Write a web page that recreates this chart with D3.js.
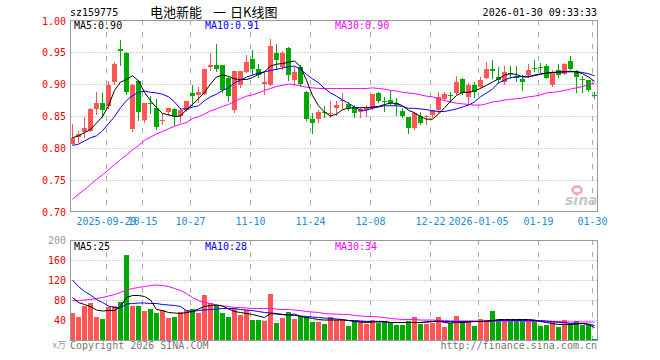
<!DOCTYPE html>
<html>
<head>
<meta charset="utf-8">
<script src="https://cdn.jsdelivr.net/npm/d3@7"></script>
<style>
  body { margin: 0; background: #fff; }
  svg { display: block; }
  text { font-family: "DejaVu Sans Mono", monospace; font-size: 10px; }
</style>
</head>
<body>
<div class="canvas"></div>
<script>
// trading days shown (2025-09-19 .. 2026-01-30)
const dates = [
  "2025-09-19","2025-09-22","2025-09-23","2025-09-24","2025-09-25","2025-09-26","2025-09-29","2025-09-30",
  "2025-10-09","2025-10-10","2025-10-13","2025-10-14","2025-10-15","2025-10-16","2025-10-17","2025-10-20",
  "2025-10-21","2025-10-22","2025-10-23","2025-10-24","2025-10-27","2025-10-28","2025-10-29","2025-10-30",
  "2025-10-31","2025-11-03","2025-11-04","2025-11-05","2025-11-06","2025-11-07","2025-11-10","2025-11-11",
  "2025-11-12","2025-11-13","2025-11-14","2025-11-17","2025-11-18","2025-11-19","2025-11-20","2025-11-21",
  "2025-11-24","2025-11-25","2025-11-26","2025-11-27","2025-11-28","2025-12-01","2025-12-02","2025-12-03",
  "2025-12-04","2025-12-05","2025-12-08","2025-12-09","2025-12-10","2025-12-11","2025-12-12","2025-12-15",
  "2025-12-16","2025-12-17","2025-12-18","2025-12-19","2025-12-22","2025-12-23","2025-12-24","2025-12-25",
  "2025-12-26","2025-12-29","2025-12-30","2025-12-31","2026-01-05","2026-01-06","2026-01-07","2026-01-08",
  "2026-01-09","2026-01-12","2026-01-13","2026-01-14","2026-01-15","2026-01-16","2026-01-19","2026-01-20",
  "2026-01-21","2026-01-22","2026-01-23","2026-01-26","2026-01-27","2026-01-28","2026-01-29","2026-01-30"
];

const open = [
  0.807,0.817,0.825,0.827,0.861,0.870,0.865,0.903,0.955,0.949,
  0.829,0.904,0.843,0.870,0.863,0.843,0.857,0.861,0.850,0.859,
  0.886,0.883,0.885,0.926,0.929,0.929,0.909,0.859,0.898,0.919,
  0.939,0.923,0.900,0.899,0.948,0.926,0.957,0.906,0.926,0.888,
  0.846,0.846,0.856,0.853,0.863,0.874,0.869,0.864,0.857,0.860,
  0.863,0.886,0.874,0.875,0.870,0.858,0.848,0.831,0.850,0.848,
  0.851,0.860,0.877,0.883,0.886,0.908,0.879,0.898,0.896,0.910,
  0.923,0.911,0.903,0.917,0.913,0.908,0.914,0.925,0.926,0.928,
  0.898,0.922,0.916,0.936,0.921,0.908,0.906,0.883
];
const close = [
  0.816,0.822,0.832,0.861,0.870,0.859,0.899,0.932,0.952,0.887,
  0.899,0.857,0.870,0.868,0.833,0.844,0.862,0.850,0.860,0.873,
  0.881,0.888,0.923,0.929,0.923,0.891,0.882,0.920,0.920,0.935,
  0.923,0.914,0.903,0.960,0.937,0.949,0.914,0.919,0.900,0.846,
  0.839,0.856,0.855,0.855,0.867,0.875,0.863,0.854,0.861,0.863,
  0.884,0.874,0.873,0.870,0.867,0.850,0.831,0.854,0.839,0.850,
  0.859,0.879,0.884,0.882,0.903,0.886,0.898,0.888,0.907,0.923,
  0.921,0.907,0.919,0.916,0.909,0.903,0.922,0.924,0.925,0.910,
  0.919,0.914,0.932,0.924,0.911,0.907,0.890,0.882
];
const high = [
  0.837,0.826,0.849,0.862,0.888,0.886,0.905,0.935,0.968,0.950,
  0.900,0.906,0.871,0.882,0.876,0.855,0.863,0.863,0.862,0.874,
  0.898,0.895,0.924,0.948,0.962,0.930,0.911,0.921,0.921,0.946,
  0.953,0.932,0.919,0.971,0.962,0.952,0.958,0.927,0.930,0.889,
  0.854,0.860,0.865,0.874,0.874,0.886,0.872,0.867,0.864,0.867,
  0.885,0.888,0.880,0.889,0.878,0.862,0.848,0.857,0.857,0.852,
  0.860,0.888,0.888,0.888,0.912,0.909,0.902,0.903,0.911,0.935,
  0.937,0.927,0.928,0.928,0.928,0.914,0.932,0.937,0.933,0.932,
  0.922,0.932,0.933,0.943,0.922,0.912,0.907,0.888
];
const low = [
  0.806,0.809,0.817,0.826,0.853,0.849,0.863,0.900,0.930,0.885,
  0.827,0.844,0.841,0.855,0.829,0.838,0.852,0.836,0.841,0.858,
  0.867,0.872,0.884,0.922,0.921,0.888,0.874,0.856,0.896,0.918,
  0.914,0.911,0.885,0.898,0.924,0.924,0.906,0.898,0.897,0.843,
  0.823,0.841,0.849,0.849,0.851,0.863,0.859,0.848,0.848,0.850,
  0.861,0.872,0.858,0.867,0.852,0.849,0.823,0.830,0.838,0.838,
  0.849,0.857,0.875,0.872,0.885,0.885,0.870,0.880,0.895,0.909,
  0.909,0.902,0.900,0.909,0.904,0.891,0.911,0.921,0.918,0.909,
  0.897,0.911,0.915,0.923,0.887,0.887,0.889,0.878
];

// moving averages as drawn on the chart
const ma5 = [
  0.816,0.819,0.824,0.829,0.839,0.849,0.866,0.890,0.903,0.907,
  0.913,0.905,0.887,0.874,0.863,0.854,0.852,0.849,0.850,0.860,
  0.868,0.877,0.887,0.900,0.911,0.914,0.912,0.908,0.907,0.907,
  0.910,0.915,0.919,0.928,0.931,0.932,0.934,0.936,0.927,0.906,
  0.882,0.866,0.856,0.850,0.853,0.860,0.862,0.863,0.863,0.863,
  0.864,0.865,0.868,0.870,0.870,0.866,0.859,0.855,0.849,0.845,
  0.845,0.853,0.863,0.873,0.882,0.887,0.887,0.889,0.893,0.898,
  0.903,0.908,0.914,0.916,0.915,0.911,0.911,0.914,0.916,0.917,
  0.918,0.919,0.919,0.920,0.919,0.916,0.911,0.904
];
const ma10 = [
  0.804,0.806,0.811,0.816,0.819,0.827,0.838,0.849,0.863,0.874,
  0.882,0.887,0.889,0.887,0.886,0.884,0.880,0.872,0.861,0.861,
  0.864,0.866,0.874,0.880,0.884,0.890,0.894,0.902,0.906,0.911,
  0.914,0.917,0.919,0.921,0.923,0.925,0.927,0.928,0.923,0.915,
  0.908,0.902,0.893,0.886,0.881,0.875,0.870,0.864,0.859,0.859,
  0.862,0.864,0.866,0.866,0.866,0.865,0.862,0.862,0.861,0.860,
  0.858,0.857,0.857,0.859,0.861,0.864,0.867,0.872,0.880,0.886,
  0.892,0.902,0.906,0.910,0.911,0.912,0.912,0.913,0.915,0.917,
  0.918,0.918,0.919,0.919,0.919,0.918,0.916,0.913
];
const ma30 = [
  0.720,0.728,0.735,0.743,0.751,0.758,0.766,0.774,0.782,0.789,
  0.797,0.804,0.812,0.817,0.822,0.826,0.830,0.834,0.837,0.840,
  0.846,0.849,0.853,0.858,0.861,0.865,0.868,0.873,0.877,0.881,
  0.883,0.886,0.890,0.893,0.896,0.898,0.900,0.899,0.897,0.895,
  0.894,0.893,0.893,0.893,0.893,0.893,0.893,0.893,0.893,0.893,
  0.894,0.893,0.892,0.890,0.889,0.887,0.886,0.885,0.883,0.881,
  0.880,0.877,0.874,0.872,0.870,0.869,0.868,0.867,0.867,0.869,
  0.872,0.873,0.875,0.876,0.877,0.878,0.880,0.881,0.883,0.886,
  0.887,0.888,0.890,0.892,0.894,0.896,0.899,0.901
];

// volume, 万手
const volume = [
  55,47,69,75,47,43,67,69,77,170,
  68,68,59,63,55,60,45,47,57,60,
  62,55,90,75,70,55,47,63,50,61,
  40,40,38,92,34,44,56,42,49,46,
  36,36,32,46,41,41,28,37,37,33,
  40,35,38,35,30,30,39,46,32,32,
  35,46,26,34,48,38,37,28,42,40,
  59,40,40,40,40,39,39,40,28,30,
  37,27,40,33,38,30,31,3
];
const vma5 = [
  85,75,71,67,60,58,59,59,67,85,
  89,89,87,80,61,59,55,54,53,55,
  57,62,67,69,70,68,62,57,55,53,
  51,48,45,53,52,51,50,52,47,45,
  43,41,40,40,40,40,39,37,36,35,
  36,37,37,35,35,35,35,35,35,36,
  37,38,35,34,35,35,36,37,37,38,
  39,41,41,41,41,41,41,40,37,35,
  33,31,31,31,32,33,31,25
];
const vma10 = [
  120,107,97,90,81,75,68,65,64,72,
  73,74,74,73,73,71,70,69,67,59,
  57,59,60,61,62,63,63,63,61,60,
  59,57,55,54,53,51,50,49,48,47,
  46,45,44,43,42,41,39,39,38,37,
  37,36,36,35,35,35,35,35,35,36,
  37,37,37,37,37,37,37,37,37,37,
  38,39,39,39,39,39,39,39,39,38,
  37,35,35,33,33,33,32,29
];
const vma30 = [
  79,79,80,81,83,85,88,91,95,100,
  103,105,107,109,110,109,107,103,99,93,
  85,79,75,73,70,68,67,65,65,64,
  63,63,63,63,62,61,61,60,59,57,
  56,55,53,52,52,51,51,49,48,47,
  47,46,45,43,42,41,41,41,40,40,
  40,39,39,38,38,38,38,38,38,38,
  38,38,38,38,38,38,37,37,37,37,
  37,37,36,36,36,36,36,36
];

// legend texts as printed on the chart
const priceLegend = ["MA5:0.90", "MA10:0.91", "MA30:0.90"];
const volLegend = ["MA5:25", "MA10:28", "MA30:34"];

const tickDates = ["2025-09-29","2025-10-15","2025-10-27","2025-11-10","2025-11-24","2025-12-08","2025-12-22","2026-01-05","2026-01-19","2026-01-30"];
const tickLabels = ["2025-09-29","10-15","10-27","11-10","11-24","12-08","12-22","2026-01-05","01-19","01-30"];
const priceTicks = [1.00, 0.95, 0.90, 0.85, 0.80, 0.75, 0.70];
const volTicks = [200, 160, 120, 80, 40];

const UP = "#ff5555", DOWN = "#00aa00", GRID = "#aaaaaa", FRAME = "#999999";
const LEGEND_COLORS = ["#000000", "#0000ff", "#ff00ff"];
const LEGEND_X = [74, 205, 335];

const svg = d3.select(".canvas")
  .append("svg")
  .attr("width", 660)
  .attr("height", 360);

const x = d3.scaleBand()
  .domain(dates)
  .range([69.5, 597.5])
  .paddingInner(1 / 6)
  .paddingOuter(1 / 12);
const cx = d => x(d) + x.bandwidth() / 2;

const y = d3.scaleLinear().domain([0.70, 1.00]).range([212, 20]);
const yv = d3.scaleLinear().domain([0, 200]).range([340, 240]);

const L = 70.5, R = 597.5;

const data = dates.map((d, i) => ({
  date: d, o: open[i], c: close[i], h: high[i], l: low[i], v: volume[i]
}));

// header
svg.append("text").attr("x", 70).attr("y", 16).attr("fill", "#000").text("sz159775");
const title = svg.append("text").attr("y", 17).attr("fill", "#000")
  .style("font-family", "'Noto Sans CJK SC', sans-serif").style("font-size", "13px");
title.append("tspan").attr("x", 150).text("电池新能");
title.append("tspan").attr("x", 213).text("一");
title.append("tspan").attr("x", 230).text("日K线图");
svg.append("text").attr("x", 597).attr("y", 16).attr("text-anchor", "end").attr("fill", "#000")
  .text("2026-01-30 09:33:33");

// ---- price panel ----
const main = svg.append("g");

main.selectAll(".hgrid")
  .data(priceTicks.filter(t => t < 1 && t > 0.7))
  .join("line")
  .attr("x1", L).attr("x2", R)
  .attr("y1", t => Math.round(y(t)) + 0.5).attr("y2", t => Math.round(y(t)) + 0.5)
  .attr("stroke", GRID).attr("stroke-dasharray", "1,2");

main.selectAll(".vgrid")
  .data(tickDates)
  .join("line")
  .attr("x1", d => x(d) + 0.5).attr("x2", d => x(d) + 0.5)
  .attr("y1", 20).attr("y2", 211)
  .attr("stroke", GRID).attr("stroke-dasharray", "5,7");

// sina watermark
main.append("ellipse").attr("cx", 577).attr("cy", 190).attr("rx", 4.5).attr("ry", 3.5)
  .attr("fill", "none").attr("stroke", "#f2a8a8").attr("stroke-width", 2.5);
main.append("text").attr("x", 565).attr("y", 205)
  .style("font-family", "'DejaVu Sans', sans-serif").style("font-size", "14px")
  .style("font-weight", "bold").style("font-style", "italic")
  .attr("fill", "#c8c8c8").text("sina");

main.selectAll(".wick")
  .data(data)
  .join("line")
  .attr("x1", d => Math.floor(cx(d.date)) + 0.5).attr("x2", d => Math.floor(cx(d.date)) + 0.5)
  .attr("y1", d => Math.round(y(d.h))).attr("y2", d => Math.round(y(d.l)) + 1)
  .attr("stroke", d => d.c >= d.o ? UP : DOWN);

main.selectAll(".body")
  .data(data)
  .join("rect")
  .attr("x", d => x(d.date))
  .attr("width", x.bandwidth())
  .attr("y", d => Math.round(y(Math.max(d.o, d.c))))
  .attr("height", d => Math.max(1, Math.round(y(Math.min(d.o, d.c))) - Math.round(y(Math.max(d.o, d.c)))))
  .attr("fill", d => d.c >= d.o ? UP : DOWN);

const priceLine = arr => d3.line().x((v, i) => cx(dates[i])).y(v => y(v))(arr);
[[ma30, "#ff00ff"], [ma10, "#0000ff"], [ma5, "#000000"]].forEach(([arr, col]) => {
  main.append("path").attr("d", priceLine(arr)).attr("fill", "none").attr("stroke", col).attr("stroke-width", 1);
});

main.append("rect").attr("x", L).attr("y", 20.5).attr("width", R - L).attr("height", 191)
  .attr("fill", "none").attr("stroke", FRAME);

main.selectAll(".plabel")
  .data(priceTicks)
  .join("text")
  .attr("x", 66)
  .attr("y", t => Math.max(25, Math.round(y(t)) + 4))
  .attr("text-anchor", "end")
  .attr("fill", "#ee0000")
  .text(t => t.toFixed(2));

main.selectAll(".dlabel")
  .data(tickDates)
  .join("text")
  .attr("x", d => x(d) + 0.5)
  .attr("y", 225)
  .attr("text-anchor", "middle")
  .attr("fill", "#1a8cd8")
  .text((d, i) => tickLabels[i]);

main.selectAll(".legend")
  .data(priceLegend)
  .join("text")
  .attr("x", (d, i) => LEGEND_X[i])
  .attr("y", 29)
  .attr("fill", (d, i) => LEGEND_COLORS[i])
  .text(d => d);

// ---- volume panel ----
const vol = svg.append("g");

vol.selectAll(".hgrid")
  .data(volTicks.filter(t => t < 200))
  .join("line")
  .attr("x1", L).attr("x2", R)
  .attr("y1", t => Math.round(yv(t)) + 0.5).attr("y2", t => Math.round(yv(t)) + 0.5)
  .attr("stroke", GRID).attr("stroke-dasharray", "1,2");

vol.selectAll(".vgrid")
  .data(tickDates)
  .join("line")
  .attr("x1", d => x(d) + 0.5).attr("x2", d => x(d) + 0.5)
  .attr("y1", 240).attr("y2", 340)
  .attr("stroke", GRID).attr("stroke-dasharray", "5,7");

vol.selectAll(".bar")
  .data(data)
  .join("rect")
  .attr("x", d => x(d.date))
  .attr("width", x.bandwidth())
  .attr("y", d => Math.round(yv(d.v)))
  .attr("height", d => 340 - Math.round(yv(d.v)))
  .attr("fill", d => d.c >= d.o ? UP : DOWN);

const volLine = arr => d3.line().x((v, i) => cx(dates[i])).y(v => yv(v))(arr);
[[vma30, "#ff00ff"], [vma10, "#0000ff"], [vma5, "#000000"]].forEach(([arr, col]) => {
  vol.append("path").attr("d", volLine(arr)).attr("fill", "none").attr("stroke", col).attr("stroke-width", 1);
});

vol.append("rect").attr("x", L).attr("y", 240.5).attr("width", R - L).attr("height", 100)
  .attr("fill", "none").attr("stroke", FRAME);

vol.selectAll(".vlabel")
  .data(volTicks)
  .join("text")
  .attr("x", 66)
  .attr("y", t => Math.round(yv(t)) + 4)
  .attr("text-anchor", "end")
  .attr("fill", t => t === 200 ? "#999999" : "#ee0000")
  .text(t => t);
vol.append("text").attr("x", 66).attr("y", 348).attr("text-anchor", "end").attr("fill", "#999999")
  .style("font-family", "'Noto Sans CJK SC', sans-serif").style("font-size", "9px").text("x万");

vol.selectAll(".legend")
  .data(volLegend)
  .join("text")
  .attr("x", (d, i) => LEGEND_X[i])
  .attr("y", 250)
  .attr("fill", (d, i) => LEGEND_COLORS[i])
  .text(d => d);

svg.append("text").attr("x", 70).attr("y", 349).attr("fill", "#777").text("Copyright 2026 SINA.COM");
svg.append("text").attr("x", 597).attr("y", 349).attr("text-anchor", "end").attr("fill", "#777")
  .text("http://finance.sina.com.cn");
</script>
</body>
</html>
